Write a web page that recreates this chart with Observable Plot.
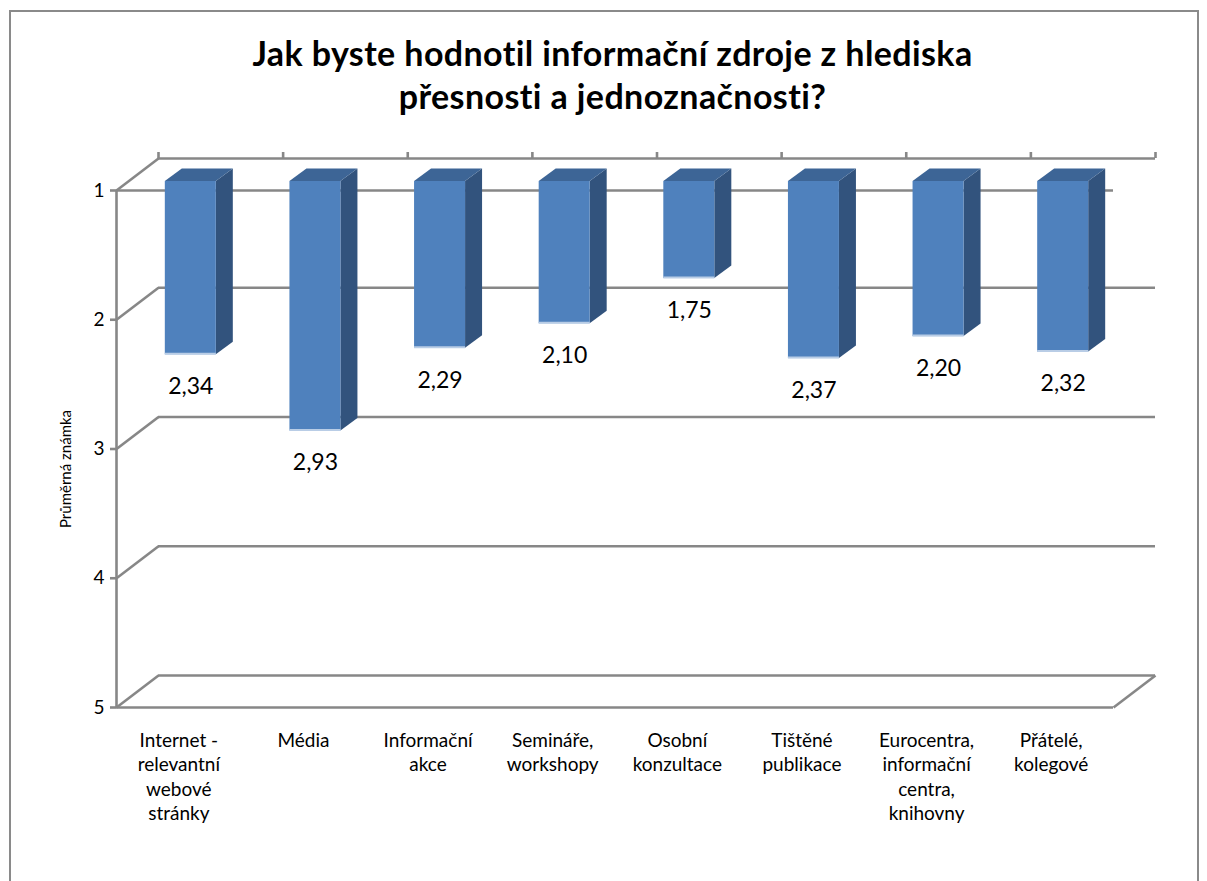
<!DOCTYPE html>
<html>
<head>
<meta charset="utf-8">
<script src="https://cdn.jsdelivr.net/npm/d3@7"></script>
<script src="https://cdn.jsdelivr.net/npm/@observablehq/plot@0.6"></script>
<style>
  html, body { margin: 0; padding: 0; background: #fff; }
  #wrap { position: relative; width: 1207px; height: 881px; overflow: hidden; font-family: Lato, "Open Sans", sans-serif; }
  #title { box-sizing: border-box; height: 150px; padding-top: 31px; padding-left: 18px; text-align: center;
           font-weight: bold; font-size: 34px; letter-spacing: 0.4px; line-height: 43px; color: #000; }
  #border { position: absolute; left: 9px; top: 10px; width: 1186px; height: 900px; border: 2px solid #8a8a8a; pointer-events: none; }
  svg { display: block; }
</style>
</head>
<body>
<div id="wrap">
  <div id="title"></div>
  <div id="chart"></div>
  <div id="border"></div>
</div>
<script>
// ---- data ----
const titleLines = ["Jak byste hodnotil informační zdroje z hlediska", "přesnosti a jednoznačnosti?"];
const categories = [
  "Internet -\nrelevantní\nwebové\nstránky",
  "Média",
  "Informační\nakce",
  "Semináře,\nworkshopy",
  "Osobní\nkonzultace",
  "Tištěné\npublikace",
  "Eurocentra,\ninformační\ncentra,\nknihovny",
  "Přátelé,\nkolegové"
];
const values = [2.34, 2.93, 2.29, 2.10, 1.75, 2.37, 2.20, 2.32];
const yTicks = [1, 2, 3, 4, 5];
const yLabel = "Průměrná známka";

// ---- layout ----
const W = 1207, H = 731;
const mL = 116, mR = 94, mT = 40, mB = 174;
const plotW = W - mL - mR, plotH = H - mT - mB;
const n = categories.length;
const yMin = 1, yMax = 5;
const PX = n / plotW;                 // data units per pixel (x)
const PY = (yMax - yMin) / plotH;     // data units per pixel (y)
const GRID = "#878787", GW = 2.6;
const FRONT = "#4F81BD", SIDE = "#32537D", TOP = "#3D6596", EDGE = "#B9CDE6";
const halfBar = 25.5 * PX;
const barDX = 12, barDY = -9;          // bar front plane offset (px)
const depthX = 17 * PX, depthY = 12.5 * PY;
const backDX = 42, backDY = -32;

document.getElementById("title").innerHTML = titleLines.join("<br>");

const bars = values.map((v, i) => ({
  i, v, cx: i + 0.5, xl: i + 0.5 - halfBar, xr: i + 0.5 + halfBar,
  label: v.toFixed(2).replace(".", ",")
}));
const sidePts = bars.flatMap(b => [
  {k: b.i, x: b.xr, y1: yMin, y2: b.v},
  {k: b.i, x: b.xr + depthX, y1: yMin - depthY, y2: b.v - depthY}
]);
const topPts = bars.flatMap(b => [
  {k: b.i, y: yMin - depthY, x1: b.xl + depthX, x2: b.xr + depthX},
  {k: b.i, y: yMin, x1: b.xl, x2: b.xr}
]);

const chart = Plot.plot({
  width: W, height: H,
  marginLeft: mL, marginRight: mR, marginTop: mT, marginBottom: mB,
  style: {fontFamily: "Lato, 'Open Sans', sans-serif", color: "#000", background: "transparent"},
  x: {type: "linear", domain: [0, n], axis: null},
  y: {type: "linear", domain: [yMin, yMax], reverse: true, axis: null},
  marks: [
    // back wall gridlines
    Plot.ruleY(yTicks, {y: d => d, x1: 0, x2: n, dx: backDX, dy: backDY, stroke: GRID, strokeWidth: GW}),
    // side wall diagonals
    Plot.link(yTicks, {x1: 0, y1: d => d, x2: backDX * PX, y2: d => d + backDY * PY, stroke: GRID, strokeWidth: GW}),
    // front edges at the base (1) and the far end (5)
    Plot.ruleY([yMin, yMax], {y: d => d, x1: 0, x2: n, stroke: GRID, strokeWidth: GW}),
    Plot.link([yMax], {x1: n, y1: d => d, x2: n + backDX * PX, y2: d => d + backDY * PY, stroke: GRID, strokeWidth: GW}),
    // category tick marks on back edge
    Plot.ruleX(d3.range(n + 1), {x: d => d, y1: yMin, y2: yMin - 6 * PY, dx: backDX, dy: backDY, stroke: GRID, strokeWidth: GW}),
    // value axis line
    Plot.ruleX([0], {x: d => d, y1: yMin, y2: yMax, stroke: GRID, strokeWidth: GW}),
    Plot.axisY({ticks: yTicks, tickSize: 6, tickPadding: 6, fontSize: 19, stroke: GRID, strokeWidth: GW, label: null, tickFormat: d => String(d)}),
    Plot.text([yLabel], {frameAnchor: "left", textAnchor: "middle", dx: -50, dy: 20, rotate: -90, fontSize: 15, fill: "#000"}),
    // bars: side, top, front
    Plot.areaY(sidePts, {x: "x", y1: "y1", y2: "y2", z: "k", fill: SIDE, dx: barDX, dy: barDY}),
    Plot.areaX(topPts, {y: "y", x1: "x1", x2: "x2", z: "k", fill: TOP, dx: barDX, dy: barDY}),
    Plot.rect(bars, {x1: "xl", x2: "xr", y1: yMin, y2: "v", fill: FRONT, dx: barDX, dy: barDY}),
    Plot.ruleY(bars, {y: "v", x1: "xl", x2: "xr", stroke: EDGE, strokeWidth: 2, dx: barDX, dy: barDY - 1}),
    // value labels
    Plot.text(bars, {x: "cx", y: "v", text: "label", dx: barDX, dy: barDY + 32, fontSize: 23, fill: "#000"}),
    // category labels
    Plot.text(categories, {x: (d, i) => i + 0.5, y: yMax, text: d => d, dy: 22, lineAnchor: "top", lineHeight: 1.29, fontSize: 19, fill: "#000"})
  ]
});
document.getElementById("chart").appendChild(chart);
</script>
</body>
</html>
